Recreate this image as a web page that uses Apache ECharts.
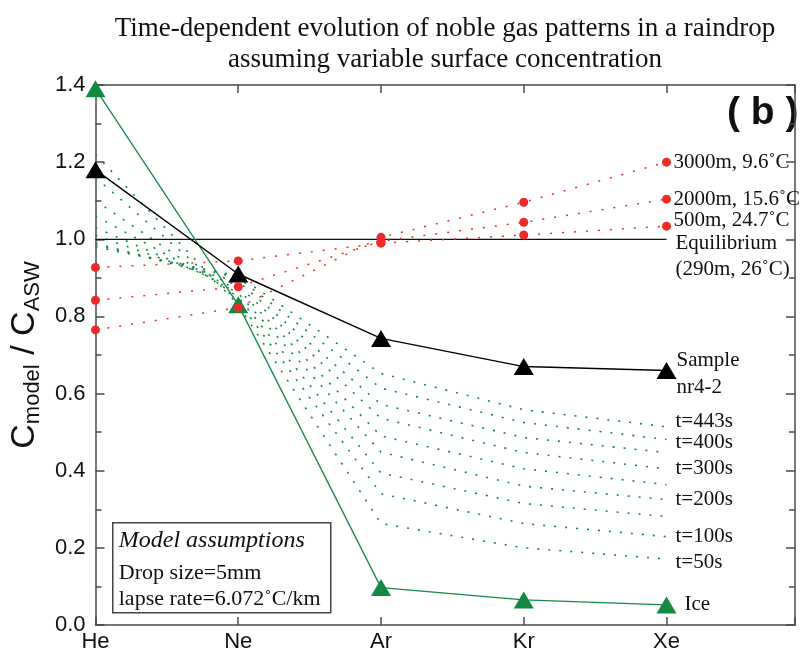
<!DOCTYPE html>
<html>
<head>
<meta charset="utf-8">
<style>
  html, body { margin: 0; padding: 0; background: #fff; }
  #chart { width: 811px; height: 654px; }
</style>
<script src="https://cdn.jsdelivr.net/npm/echarts@6.0.0/dist/echarts.min.js"></script>
</head>
<body>
<div id="chart"></div>
<script>
// noble gases on the x axis
const elements = ['He', 'Ne', 'Ar', 'Kr', 'Xe'];
const yTicks = [0, 0.2, 0.4, 0.6, 0.8, 1.0, 1.2, 1.4];

// measured / reference patterns
const iceRatio = [1.39, 0.83, 0.097, 0.065, 0.052];
const sampleRatio = [1.18, 0.91, 0.743, 0.67, 0.66];
const equilibriumRatio = [1, 1, 1, 1, 1];

// equilibrium at altitude (red dotted)
const alt3000 = [0.765, 0.823, 1.005, 1.096, 1.2];
const alt2000 = [0.842, 0.877, 0.995, 1.044, 1.104];
const alt500 = [0.927, 0.944, 0.99, 1.011, 1.034];
const altLabels = ['3000m, 9.6˚C', '2000m, 15.6˚C', '500m, 24.7˚C'];

// time evolution (green dotted)
const times = [443, 400, 350, 300, 250, 200, 150, 100, 50];
const timeLabels = ['t=443s', 't=400s', '', 't=300s', '', 't=200s', '', 't=100s', 't=50s'];
const t443 = [0.98, 0.905, 0.652, 0.558, 0.514];
const t400 = [0.985, 0.9, 0.614, 0.525, 0.481];
const t350 = [0.99, 0.89, 0.572, 0.486, 0.447];
const t300 = [1.01, 0.88, 0.536, 0.447, 0.405];
const t250 = [1.03, 0.87, 0.49, 0.405, 0.364];
const t200 = [1.06, 0.86, 0.448, 0.36, 0.325];
const t150 = [1.1, 0.85, 0.394, 0.315, 0.281];
const t100 = [1.16, 0.84, 0.34, 0.263, 0.229];
const t50 = [1.22, 0.83, 0.263, 0.2, 0.171];
const timeSeries = [t443, t400, t350, t300, t250, t200, t150, t100, t50];
// nudge the crowded end labels apart
const timeLabelShift = [-5, 3, 0, 0, 0, 0, 0, 0, 3];

const GREEN = '#138a43';
const RED = '#ee2b2b';
const AXIS = '#4a4a4a';
const SERIF = 'Liberation Serif';
const SANS = 'Liberation Sans';

const toPoints = arr => arr.map((v, i) => [i, v]);

const labelStyle = (text, offset) => ({
  show: true,
  formatter: text,
  distance: 9,
  offset: offset || [0, 0],
  fontFamily: SERIF,
  fontSize: 21,
  color: '#111'
});

const series = [];

// green dotted model curves
timeSeries.forEach((arr, i) => {
  series.push({
    name: 't' + times[i],
    type: 'line',
    data: toPoints(arr),
    showSymbol: false,
    lineStyle: { color: GREEN, width: 1.6, type: [2, 9] },
    endLabel: timeLabels[i] ? labelStyle(timeLabels[i], [0, timeLabelShift[i]]) : { show: false },
    z: 2
  });
});

// equilibrium at 290m
series.push({
  name: 'equilibrium',
  type: 'line',
  data: toPoints(equilibriumRatio),
  showSymbol: false,
  lineStyle: { color: '#111', width: 1.2 },
  endLabel: Object.assign(labelStyle('Equilibrium\n(290m, 26˚C)', [0, 17]), { lineHeight: 26 }),
  z: 3
});

// ice
series.push({
  name: 'ice',
  type: 'line',
  data: toPoints(iceRatio),
  symbol: 'triangle',
  symbolSize: [20, 17],
  itemStyle: { color: GREEN },
  lineStyle: { color: GREEN, width: 1.3 },
  endLabel: labelStyle('Ice', [9, 0]),
  z: 4
});

// sample nr4-2
series.push({
  name: 'sample',
  type: 'line',
  data: toPoints(sampleRatio),
  symbol: 'triangle',
  symbolSize: [20, 17],
  itemStyle: { color: '#000' },
  lineStyle: { color: '#000', width: 1.4 },
  endLabel: Object.assign(labelStyle('Sample\nnr4-2', [1, 4]), { lineHeight: 27 }),
  z: 5
});

// altitude equilibria
[alt3000, alt2000, alt500].forEach((arr, i) => {
  series.push({
    name: altLabels[i],
    type: 'line',
    data: toPoints(arr),
    symbol: 'circle',
    symbolSize: 9,
    itemStyle: { color: RED },
    lineStyle: { color: RED, width: 1.5, type: [2, 10] },
    endLabel: labelStyle(altLabels[i], [-2, i === 2 ? -6 : 0]),
    z: 6
  });
});

const xBase = {
  type: 'value',
  min: 0,
  max: 4.9,
  interval: 1,
  axisLine: { onZero: false, lineStyle: { color: AXIS, width: 1.5 } },
  axisTick: { inside: true, length: 8, lineStyle: { color: AXIS, width: 1.5 } },
  splitLine: { show: false }
};
const yBase = {
  type: 'value',
  min: 0,
  max: 1.4,
  interval: 0.2,
  axisLine: { show: true, onZero: false, lineStyle: { color: AXIS, width: 1.5 } },
  axisTick: { show: true, inside: true, length: 9, lineStyle: { color: AXIS, width: 1.5 } },
  minorTick: { show: true, splitNumber: 2, length: 6, lineStyle: { color: AXIS, width: 1.5 } },
  splitLine: { show: false }
};

const chart = echarts.init(document.getElementById('chart'), null, { renderer: 'canvas' });
chart.setOption({
  animation: false,
  backgroundColor: '#fff',
  grid: { left: 95, right: 16, top: 85, bottom: 29, containLabel: false },
  xAxis: [
    Object.assign({}, xBase, {
      position: 'bottom',
      axisLabel: {
        formatter: v => (Number.isInteger(v) ? elements[v] || '' : ''),
        fontFamily: SANS,
        fontSize: 22,
        color: '#111',
        margin: 6
      }
    }),
    Object.assign({}, xBase, { position: 'top', axisLabel: { show: false } })
  ],
  yAxis: [
    Object.assign({}, yBase, {
      position: 'left',
      axisLabel: {
        formatter: v => (yTicks.some(t => Math.abs(t - v) < 1e-6) ? v.toFixed(1) : ''),
        fontFamily: SANS,
        fontSize: 22,
        color: '#111',
        margin: 10
      },
      name: '{c|C}{s|model}{c| / C}{s|ASW}',
      nameLocation: 'middle',
      nameGap: 42,
      nameRotate: 90,
      nameTextStyle: {
        rich: {
          c: { fontFamily: SANS, fontSize: 34, color: '#111', lineHeight: 38 },
          s: { fontFamily: SANS, fontSize: 22, color: '#111', lineHeight: 38, verticalAlign: 'bottom' }
        }
      }
    }),
    Object.assign({}, yBase, { position: 'right', axisLabel: { show: false } })
  ],
  series: series,
  graphic: [
    {
      type: 'text',
      x: 445,
      y: 13,
      style: {
        text: 'Time-dependent evolution of noble gas patterns in a raindrop\nassuming variable surface concentration',
        font: '27px "Liberation Serif"',
        fill: '#111',
        align: 'center',
        lineHeight: 31
      }
    },
    {
      type: 'text',
      left: 727,
      top: 94,
      style: { text: '( b )', font: 'bold 39px "Liberation Sans"', fill: '#111' }
    },
    {
      type: 'group',
      left: 112,
      top: 522,
      children: [
        {
          type: 'rect',
          shape: { x: 0, y: 0, width: 218, height: 90 },
          style: { fill: '#fff', stroke: '#444', lineWidth: 1.5 }
        },
        {
          type: 'text',
          x: 6,
          y: 6,
          style: { text: 'Model assumptions', font: 'italic 24px "Liberation Serif"', fill: '#111' }
        },
        {
          type: 'text',
          x: 6,
          y: 39,
          style: { text: 'Drop size=5mm', font: '22px "Liberation Serif"', fill: '#111' }
        },
        {
          type: 'text',
          x: 6,
          y: 65,
          style: { text: 'lapse rate=6.072˚C/km', font: '22px "Liberation Serif"', fill: '#111' }
        }
      ]
    }
  ]
});
</script>
</body>
</html>
